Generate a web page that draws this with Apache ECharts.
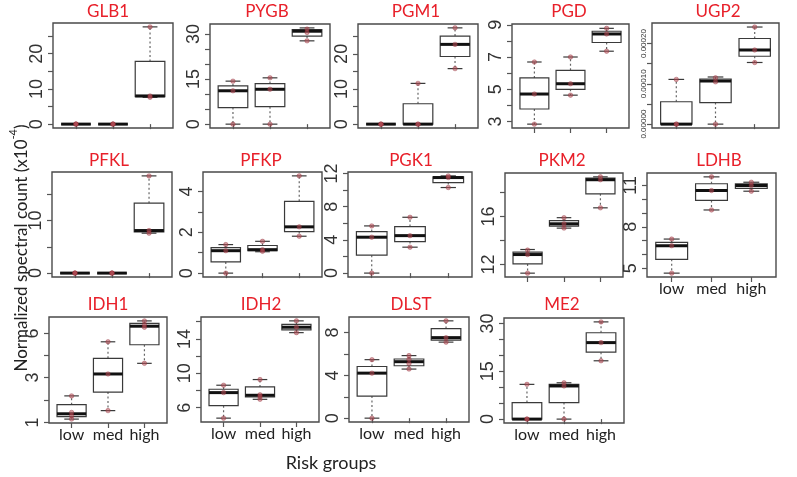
<!DOCTYPE html>
<html><head><meta charset="utf-8">
<script src="https://cdn.jsdelivr.net/npm/echarts@6/dist/echarts.min.js"></script>
<style>html,body{margin:0;padding:0;background:#fff}#c{width:797px;height:477px}</style>
</head><body><div id="c"></div>
<script>
const groups = ['low', 'med', 'high'];
const genes = ['GLB1','PYGB','PGM1','PGD','UGP2','PFKL','PFKP','PGK1','PKM2','LDHB','IDH1','IDH2','DLST','ME2'];

// box statistics per risk group: [min, q1, median, q3, max]
const GLB1_box = [[0,0,0,0,0],[0,0,0,0,0],[7.6,7.8,8.0,17.8,27.6]];
const PYGB_box = [[0,5.5,11.1,12.7,14.3],[0,5.8,11.6,13.5,15.4],[27.7,29.3,30.9,31.45,32.0]];
const PGM1_box = [[0,0,0,0,0],[0,0,0,5.8,11.6],[15.8,19.25,22.7,25.05,27.4]];
const PGD_box  = [[2.83,3.77,4.70,5.70,6.69],[4.63,4.99,5.34,6.17,7.0],[7.36,7.9,8.43,8.6,8.78]];
const UGP2_box = [[0,0,0,0.0000555,0.000111],[0,0.0000535,0.000107,0.000112,0.000117],[0.000153,0.0001685,0.000184,0.0002125,0.000241]];
const PFKL_box = [[0,0,0,0,0],[0,0,0,0,0],[7.6,7.85,8.1,13.3,18.5]];
const PFKP_box = [[0,0.55,1.10,1.25,1.40],[1.05,1.10,1.15,1.355,1.56],[1.81,2.04,2.27,3.52,4.77]];
const PGK1_box = [[0,2.16,4.32,5.0,5.68],[3.12,3.8,4.51,5.6,6.72],[10.3,10.9,11.5,11.6,11.7]];
const PKM2_box = [[11.28,12.05,12.83,13.03,13.25],[15.03,15.2,15.39,15.65,15.9],[16.72,17.89,19.06,19.2,19.3]];
const LDHB_box = [[4.64,5.64,6.63,6.87,7.11],[9.22,9.91,10.63,11.12,11.62],[10.58,10.78,11.0,11.12,11.23]];
const IDH1_box = [[1.11,1.20,1.30,1.66,2.05],[1.42,2.23,3.20,4.18,5.35],[3.85,5.13,6.59,6.82,7.04]];
const IDH2_box = [[4.78,6.23,7.75,8.14,8.61],[6.97,7.24,7.44,8.41,9.27],[14.73,15.04,15.36,15.7,16.1]];
const DLST_box = [[0,2.06,4.21,4.83,5.47],[4.59,4.9,5.28,5.53,5.85],[7.11,7.3,7.53,8.38,9.1]];
const ME2_box  = [[0,0,0,5.2,10.9],[0,5.2,10.4,10.9,11.4],[18.3,21.0,24.0,27.1,30.5]];

// individual sample points per risk group
const GLB1_pts = [[0,0,0],[0,0,0],[7.6,8.0,27.6]];
const PYGB_pts = [[0,11.1,14.3],[0,11.6,15.4],[27.7,30.5,31.6]];
const PGM1_pts = [[0,0,0],[0,0,11.6],[15.8,22.7,27.4]];
const PGD_pts  = [[2.83,4.70,6.69],[4.63,5.34,7.0],[7.36,8.43,8.78]];
const UGP2_pts = [[0,0,0.000111],[0,0.000105,0.000115],[0.000153,0.000184,0.000241]];
const PFKL_pts = [[0,0,0],[0,0,0],[7.6,8.1,18.5]];
const PFKP_pts = [[0,1.10,1.40],[1.07,1.15,1.56],[1.81,2.27,4.77]];
const PGK1_pts = [[0,4.32,5.68],[3.12,4.51,6.72],[10.3,11.5,11.7]];
const PKM2_pts = [[11.28,12.83,13.2],[15.03,15.39,15.9],[16.72,19.06,19.3]];
const LDHB_pts = [[4.64,6.63,7.11],[9.22,10.63,11.62],[10.58,11.0,11.23]];
const IDH1_pts = [[1.11,1.23,1.35,2.05],[1.42,3.2,5.35],[3.85,6.5,6.7,7.04]];
const IDH2_pts = [[4.78,7.75,8.61],[6.97,7.3,7.5,9.27],[14.73,15.36,16.1]];
const DLST_pts = [[0,4.21,5.47],[4.59,5.1,5.5,5.85],[7.11,7.53,9.1]];
const ME2_pts  = [[0,0,10.9],[0,10.4,11.4],[18.3,24.0,30.5]];

// y tick marks and labelled ticks
const GLB1_ticks = [0,5,10,15,20,25], GLB1_labels = [0,10,20];
const PYGB_ticks = [0,5,10,15,20,25,30], PYGB_labels = [0,15,30];
const PGM1_ticks = [0,5,10,15,20,25], PGM1_labels = [0,10,20];
const PGD_ticks = [3,4,5,6,7,8,9], PGD_labels = [3,5,7,9];
const UGP2_ticks = [0,0.00005,0.0001,0.00015,0.0002], UGP2_labels = [0,0.0001,0.0002];
const PFKL_ticks = [0,5,10,15], PFKL_labels = [0,10];
const PFKP_ticks = [0,1,2,3,4], PFKP_labels = [0,2,4];
const PGK1_ticks = [0,2,4,6,8,10,12], PGK1_labels = [0,4,8,12];
const PKM2_ticks = [12,14,16,18], PKM2_labels = [12,16];
const LDHB_ticks = [5,6,7,8,9,10,11], LDHB_labels = [5,8,11];
const IDH1_ticks = [1,1.87,3,4.37,6], IDH1_labels = [1,3,6];
const IDH2_ticks = [6,8,10,12,14,16], IDH2_labels = [6,10,14];
const DLST_ticks = [0,2,4,6,8], DLST_labels = [0,4,8];
const ME2_ticks = [0,5,10,15,20,25,30], ME2_labels = [0,15,30];

const boxes = {GLB1:GLB1_box,PYGB:PYGB_box,PGM1:PGM1_box,PGD:PGD_box,UGP2:UGP2_box,PFKL:PFKL_box,PFKP:PFKP_box,PGK1:PGK1_box,PKM2:PKM2_box,LDHB:LDHB_box,IDH1:IDH1_box,IDH2:IDH2_box,DLST:DLST_box,ME2:ME2_box};
const points = {GLB1:GLB1_pts,PYGB:PYGB_pts,PGM1:PGM1_pts,PGD:PGD_pts,UGP2:UGP2_pts,PFKL:PFKL_pts,PFKP:PFKP_pts,PGK1:PGK1_pts,PKM2:PKM2_pts,LDHB:LDHB_pts,IDH1:IDH1_pts,IDH2:IDH2_pts,DLST:DLST_pts,ME2:ME2_pts};
const ticks = {GLB1:GLB1_ticks,PYGB:PYGB_ticks,PGM1:PGM1_ticks,PGD:PGD_ticks,UGP2:UGP2_ticks,PFKL:PFKL_ticks,PFKP:PFKP_ticks,PGK1:PGK1_ticks,PKM2:PKM2_ticks,LDHB:LDHB_ticks,IDH1:IDH1_ticks,IDH2:IDH2_ticks,DLST:DLST_ticks,ME2:ME2_ticks};
const labels = {GLB1:GLB1_labels,PYGB:PYGB_labels,PGM1:PGM1_labels,PGD:PGD_labels,UGP2:UGP2_labels,PFKL:PFKL_labels,PFKP:PFKP_labels,PGK1:PGK1_labels,PKM2:PKM2_labels,LDHB:LDHB_labels,IDH1:IDH1_labels,IDH2:IDH2_labels,DLST:DLST_labels,ME2:ME2_labels};

// layout: grid [left, top, width, height], y range, title centre x, show x labels, sqrt axis
const layout = {
  GLB1:{g:[53,23,120,105], y:[-1.1,28.7], tx:108},
  PYGB:{g:[210,24,120,104], y:[-1.28,33.3], tx:267},
  PGM1:{g:[358,24,120,104], y:[-1.1,28.5], tx:416},
  PGD: {g:[512,24,117,104], y:[2.59,9.05], tx:569},
  UGP2:{g:[652,23,127,105], y:[-0.0000096,0.000251], tx:718, small:true},
  PFKL:{g:[52,172,120,105], y:[-0.74,19.24], tx:109},
  PFKP:{g:[203,172,119,105], y:[-0.19,4.96], tx:261},
  PGK1:{g:[348,172,124,105], y:[-0.47,12.17], tx:411},
  PKM2:{g:[505,173,118,104], y:[10.96,19.62], tx:562},
  LDHB:{g:[647,173,129,104], y:[4.36,11.9], tx:719, xl:true},
  IDH1:{g:[49,317,118,106], y:[0.99,2.717], tx:108, xl:true, sqrt:true},
  IDH2:{g:[201,317,118,105], y:[4.33,16.55], tx:261, xl:true},
  DLST:{g:[349,317,120,105], y:[-0.36,9.46], tx:411, xl:true},
  ME2: {g:[504,318,120,105], y:[-1.22,31.72], tx:562, xl:true}
};
const titleY = [12, 12, 12, 12, 12, 161, 161, 161, 161, 161, 305, 305, 305, 305];

const dark = '#3a3a3a';
function renderBox(params, api) {
  const x = api.value(0);
  const mn = api.value(1), q1 = api.value(2), md = api.value(3), q3 = api.value(4), mx = api.value(5);
  const hw = 0.4, cw = 0.2;
  const c = (a, b) => api.coord([a, b]);
  const ls = {stroke: '#666', lineWidth: 1.2, lineDash: [2, 2.5]};
  const solid = {stroke: dark, lineWidth: 1.2};
  const pMin = c(x, mn), pQ1 = c(x, q1), pQ3 = c(x, q3), pMax = c(x, mx);
  const bl = c(x - hw, q3), br = c(x + hw, q1);
  const children = [];
  children.push({type:'line', shape:{x1:pQ3[0], y1:pQ3[1], x2:pMax[0], y2:pMax[1]}, style:ls});
  children.push({type:'line', shape:{x1:pQ1[0], y1:pQ1[1], x2:pMin[0], y2:pMin[1]}, style:ls});
  const cl = c(x - cw, mx), cr = c(x + cw, mx);
  children.push({type:'line', shape:{x1:cl[0], y1:cl[1], x2:cr[0], y2:cr[1]}, style:solid});
  const dl = c(x - cw, mn), dr = c(x + cw, mn);
  children.push({type:'line', shape:{x1:dl[0], y1:dl[1], x2:dr[0], y2:dr[1]}, style:solid});
  children.push({type:'rect', shape:{x:bl[0], y:bl[1], width:br[0]-bl[0], height:br[1]-bl[1]}, style:{fill:'#fff', stroke:dark, lineWidth:1.2}});
  const ml = c(x - hw, md), mr = c(x + hw, md);
  children.push({type:'line', shape:{x1:ml[0], y1:ml[1], x2:mr[0], y2:mr[1]}, style:{stroke:'#111', lineWidth:3}});
  return {type:'group', children};
}

const grid = [], xAxis = [], yAxis = [], series = [], graphic = [];
const tickStyle = {color:'#555', width:1.2};
genes.forEach((gname, i) => {
  const L = layout[gname];
  const tf = L.sqrt ? (v => Math.sqrt(v)) : (v => v);
  grid.push({left:L.g[0], top:L.g[1], width:L.g[2], height:L.g[3], show:true, borderColor:'#4a4a4a', borderWidth:1.4, backgroundColor:'transparent'});
  xAxis.push({type:'value', gridIndex:i, min:0.38, max:3.62,
    axisLine:{show:false}, splitLine:{show:false},
    axisTick:{show:true, customValues:[1,2,3], length:5, lineStyle:tickStyle},
    axisLabel:{show:!!L.xl, customValues:[1,2,3], formatter:v => groups[Math.round(v)-1], fontFamily:'Lato', fontSize:16, color:'#222', margin:4}
  });
  yAxis.push({type:'value', gridIndex:i, min:L.y[0], max:L.y[1],
    axisLine:{show:false}, splitLine:{show:false},
    axisTick:{show:true, customValues:ticks[gname].map(tf), length:5, lineStyle:tickStyle},
    axisLabel:{customValues:labels[gname].map(tf), rotate:90,
      formatter: L.small ? (v => v.toFixed(5)) : (L.sqrt ? (v => String(Math.round(v*v))) : (v => String(v))),
      fontFamily:'Liberation Sans Narrow, Liberation Sans', fontSize: L.small ? 8 : 18, color:'#333', margin: L.small ? 4 : 7}
  });
  series.push({type:'custom', xAxisIndex:i, yAxisIndex:i, renderItem:renderBox,
    encode:{x:0, y:[1,2,3,4,5]},
    data: boxes[gname].map((b, k) => [k+1].concat(b.map(tf)))});
  const pts = [];
  points[gname].forEach((arr, k) => arr.forEach(v => pts.push([k+1, tf(v)])));
  series.push({type:'scatter', xAxisIndex:i, yAxisIndex:i, symbol:'circle', symbolSize:4.5, z:5,
    itemStyle:{color:'rgba(185,80,90,0.7)', borderColor:'rgba(140,40,50,0.75)', borderWidth:0.6},
    data: pts});
  graphic.push({type:'text', x:L.tx, y:titleY[i], style:{text:gname, fill:'#e8202a', font:'17px Lato', align:'center', verticalAlign:'middle'}});
});

graphic.push({type:'text', x:19, y:248, rotation:Math.PI/2,
  style:{text:'{n|Normalized spectral count (x10}{s|-4}{n|)}', align:'center', verticalAlign:'middle',
    rich:{n:{fontFamily:'Lato', fontSize:17, fill:'#222', lineHeight:22, verticalAlign:'bottom'},
          s:{fontFamily:'Lato', fontSize:11, fill:'#222', lineHeight:22, verticalAlign:'top'}}}});
graphic.push({type:'text', x:331, y:463, style:{text:'Risk groups', fill:'#222', font:'18px Lato', align:'center', verticalAlign:'middle'}});

const chart = echarts.init(document.getElementById('c'), null, {renderer:'canvas'});
chart.setOption({animation:false, backgroundColor:'#fff', grid, xAxis, yAxis, series, graphic});
</script></body></html>
